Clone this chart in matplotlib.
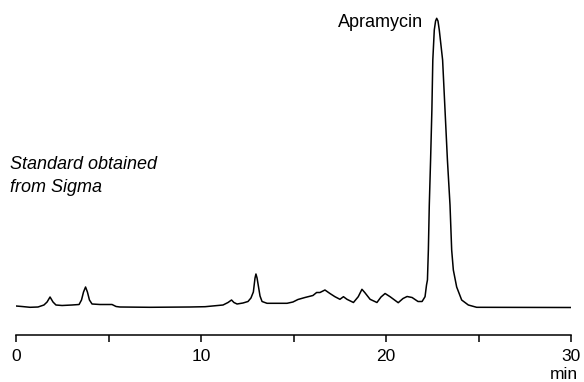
import numpy as np
from matplotlib import pyplot as plt

plt.rcParams['font.family'] = ['Liberation Sans', 'DejaVu Sans']

# retention time (min) and detector signal (arbitrary units)
time = [0.0, 0.32, 0.76, 1.19, 1.51, 1.68, 1.84, 2.0, 2.16, 2.49,
        3.03, 3.41, 3.54, 3.65, 3.76, 3.86, 3.97, 4.11, 4.54, 5.19,
        5.41, 5.62, 7.24, 9.41, 10.22, 11.19, 11.46, 11.65, 11.78, 11.95,
        12.27, 12.54, 12.7, 12.83, 12.92, 12.97, 13.03, 13.11, 13.19, 13.3,
        13.57, 14.65, 14.97, 15.24, 15.62, 16.05, 16.25, 16.43, 16.7, 16.97,
        17.24, 17.51, 17.7, 17.89, 18.24, 18.5, 18.7, 18.86, 19.14, 19.51,
        19.73, 19.95, 20.22, 20.66, 20.92, 21.14, 21.41, 21.73, 21.95, 22.11,
        22.19, 22.24, 22.29, 22.34, 22.41, 22.48, 22.53, 22.61, 22.68, 22.74,
        22.81, 22.88, 23.06, 23.19, 23.32, 23.46, 23.55, 23.64, 23.82, 24.09,
        24.45, 24.9, 30.0]
signal = [2, 1.5, 0.7, 1, 3, 6, 11, 6, 3, 2.5,
          3, 3.5, 8, 16, 21, 16, 8, 4, 3.5, 3.5,
          1.5, 1, 0.7, 1, 1.3, 3, 5.5, 8, 5.5, 4,
          5, 6.5, 10, 16, 30, 34, 30, 21, 12, 6.5,
          4.7, 4.7, 6, 8.5, 10.5, 12.5, 15.5, 15.5, 18, 14.5,
          11.3, 8.7, 11.3, 8.7, 5.5, 11.3, 18.7, 15.3, 8.7, 5.5,
          11, 14.5, 11.3, 5.3, 9.5, 11.5, 10.5, 6.5, 6.5, 11.3,
          23, 28, 58, 103, 148, 198, 248, 278, 287, 289.7,
          287, 278, 248, 198, 148, 103, 58, 38, 21, 8,
          3, 0.7, 0.5]

major_ticks = [0, 10, 20, 30]
minor_ticks = [5, 15, 25]

W, H = 584, 382
fig = plt.figure(figsize=(W / 100, H / 100), dpi=100)
# axes spans x 16..571 px, y 10..335 px (from top)
ax = fig.add_axes([16 / W, (H - 335) / H, (571 - 16) / W, (335 - 10) / H])
ax.plot(time, signal, color='black', lw=1.1)
ax.set_xlim(0, 30)
ax.set_ylim(-27, 298)

for s in ['top', 'right', 'left']:
    ax.spines[s].set_visible(False)
ax.spines['bottom'].set_linewidth(1.1)
ax.set_yticks([])
ax.set_xticks(major_ticks)
ax.set_xticks(minor_ticks, minor=True)
ax.tick_params(axis='x', which='both', direction='out', length=5, width=1.1, labelsize=12.5, pad=5)

fig.text(578 / W, 1 - 379 / H, 'min', fontsize=12.5, ha='right', va='baseline')
fig.text(338 / W, 1 - 27 / H, 'Apramycin', fontsize=13, ha='left', va='baseline')
fig.text(10 / W, 1 - 169.5 / H, 'Standard obtained', fontsize=13,
         style='italic', ha='left', va='baseline')
fig.text(10 / W, 1 - 191.5 / H, 'from Sigma', fontsize=13,
         style='italic', ha='left', va='baseline')

fig.savefig('out.png', dpi=100)
